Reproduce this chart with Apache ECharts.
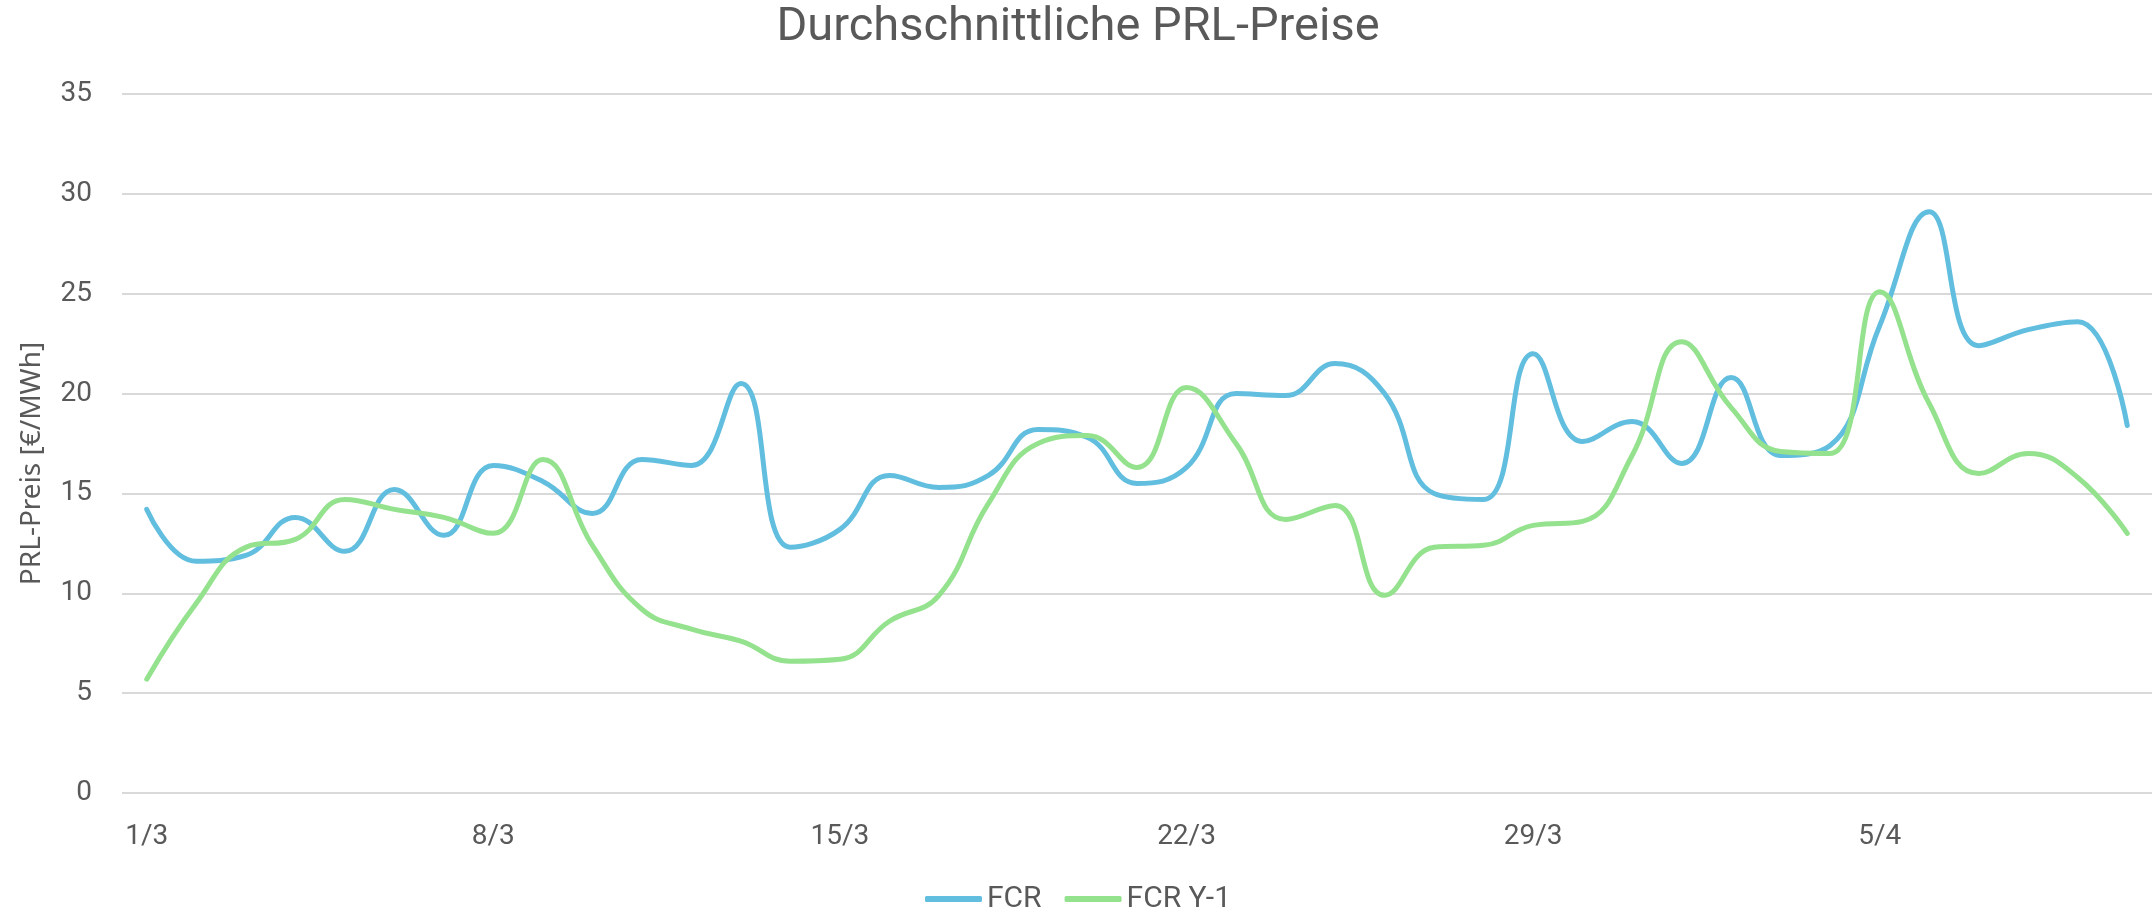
<!DOCTYPE html>
<html>
<head>
<meta charset="utf-8">
<title>Durchschnittliche PRL-Preise</title>
<script src="https://cdn.jsdelivr.net/npm/echarts@6/dist/echarts.min.js"></script>
<style>
  html, body { margin: 0; padding: 0; background: #fff; }
  #chart { width: 2156px; height: 912px; }
</style>
</head>
<body>
<div id="chart"></div>
<script>
  // dates 1/3 .. 10/4
  const days = [
    '1/3', '2/3', '3/3', '4/3', '5/3', '6/3', '7/3', '8/3', '9/3', '10/3',
    '11/3', '12/3', '13/3', '14/3', '15/3', '16/3', '17/3', '18/3', '19/3', '20/3',
    '21/3', '22/3', '23/3', '24/3', '25/3', '26/3', '27/3', '28/3', '29/3', '30/3',
    '31/3', '1/4', '2/4', '3/4', '4/4', '5/4', '6/4', '7/4', '8/4', '9/4', '10/4'
  ];

  const fcr = [
    14.2, 11.6, 11.9, 13.8, 12.1, 15.2, 12.9, 16.4, 15.6, 14.0,
    16.7, 16.4, 20.5, 12.3, 13.2, 15.9, 15.3, 15.9, 18.2, 17.8,
    15.5, 16.3, 20.0, 19.9, 21.5, 20.0, 15.0, 14.7, 22.0, 17.6,
    18.6, 16.5, 20.8, 16.9, 17.4, 23.4, 29.1, 22.4, 23.2, 23.6,
    18.4
  ];

  const fcrY1 = [
    5.7, 9.5, 12.3, 12.7, 14.7, 14.2, 13.8, 13.0, 16.7, 12.4,
    9.2, 8.2, 7.6, 6.6, 6.7, 8.6, 9.9, 14.5, 17.5, 17.9,
    16.3, 20.3, 17.5, 13.7, 14.4, 9.9, 12.3, 12.4, 13.4, 13.6,
    16.9, 22.6, 19.3, 17.1, 17.0, 25.1, 19.5, 16.0, 17.0, 15.8,
    13.0
  ];

  const yTicks = { min: 0, max: 35, step: 5 };

  const textColor = '#595959';
  const gridColor = '#d9d9d9';

  let chart = echarts.init(document.getElementById('chart'));
  chart.setOption({
    animation: false,
    title: {
      text: 'Durchschnittliche PRL-Preise',
      left: 'center',
      top: 0,
      textStyle: {
        color: textColor,
        fontFamily: 'Roboto',
        fontWeight: 'normal',
        fontSize: 47
      }
    },
    legend: {
      top: 879,
      left: 'center',
      icon: 'roundRect',
      itemWidth: 57,
      itemHeight: 6,
      itemGap: 23,
      textStyle: {
        color: textColor,
        fontFamily: 'Roboto',
        fontSize: 30
      },
      data: ['FCR', 'FCR Y-1']
    },
    grid: {
      left: 122,
      right: 4,
      top: 94,
      bottom: 119
    },
    xAxis: {
      type: 'category',
      data: days,
      boundaryGap: true,
      axisLine: { show: false },
      axisTick: { show: false },
      axisLabel: {
        interval: 6,
        color: textColor,
        fontFamily: 'Roboto',
        fontSize: 28,
        margin: 30
      }
    },
    yAxis: {
      type: 'value',
      min: yTicks.min,
      max: yTicks.max,
      interval: yTicks.step,
      name: 'PRL-Preis [€/MWh]',
      nameLocation: 'middle',
      nameGap: 76,
      nameTextStyle: {
        color: textColor,
        fontFamily: 'Noto Sans',
        fontSize: 28,
        padding: [0, 40, 0, 0]
      },
      axisLine: { show: false },
      axisTick: { show: false },
      axisLabel: {
        color: textColor,
        fontFamily: 'Roboto',
        fontSize: 28,
        margin: 30
      },
      splitLine: {
        lineStyle: { color: gridColor, width: 2 }
      }
    },
    series: [
      {
        name: 'FCR',
        type: 'line',
        data: fcr,
        smooth: 0.45,
        symbol: 'none',
        itemStyle: { color: '#62bedf' },
        lineStyle: { color: '#62bedf', width: 5, cap: 'round' }
      },
      {
        name: 'FCR Y-1',
        type: 'line',
        data: fcrY1,
        smooth: 0.45,
        symbol: 'none',
        itemStyle: { color: '#95e28e' },
        lineStyle: { color: '#95e28e', width: 5, cap: 'round' }
      }
    ]
  });
</script>
</body>
</html>
